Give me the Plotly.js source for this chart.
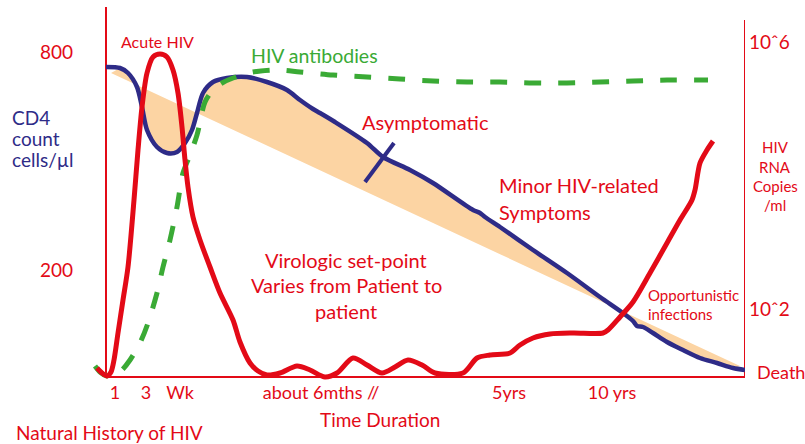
<!DOCTYPE html>
<html><head><meta charset="utf-8">
<script src="https://cdn.plot.ly/plotly-3.0.1.min.js"></script>
<style>html,body{margin:0;padding:0;background:#fff}#chart{width:805px;height:444px}</style>
</head><body><div id="chart"></div>
<script>
// Schematic units: time axis (0 = start of infection, 639 = death), level axis (0 = baseline)
const cd4Time = [0,14,22,31,36,41,51,61,71,79,86,91,97,107,121,141,161,181,194,207,214,229,261,277,304,327,367,374,379,394,427,461,494,517,527,531,537,547,561,577,594,611,627,639];
const cd4Level = [310,309,304,290,270,247,230,224,225,234,247,264,284,295,299,300,295,287,277,268,264,255,234,220,207,194,167,164,160,150,127,104,80,64,56,51,50,44,35,27,19,14,9,7];

const rnaTime = [-9,-4,1,5,8,12,17,22,28,32,36,41,47,54,61,67,72,76,79,82,87,94,104,114,127,134,144,152,161,174,191,204,219,231,247,261,276,289,302,316,329,357,371,384,404,414,427,444,467,497,502,514,527,544,561,574,586,589,594,601,607];
const rnaLevel = [9,4,1,5,17,44,77,110,177,227,270,304,320,323,320,307,284,250,217,190,160,137,110,84,57,35,14,6,2,4,11,7,0,4,19,12,4,10,17,12,4,4,19,22,24,32,39,43,44,44,47,60,75,104,134,157,177,187,214,227,236];

const abTime = [-11,-6,1,9,16,24,34,42,51,57,64,71,77,84,91,99,107,116,127,147,171,194,227,261,294,327,361,394,427,461,494,527,561,602];
const abLevel = [11,5,1,2,7,17,34,54,84,110,137,170,204,222,242,275,287,294,299,305,307,305,302,300,298,296,295,295,294,294,295,296,297,297];

// edge of the shaded band (start and end)
const bandTime = [5,634];
const bandLevel = [304,11];

// small cross-mark on the CD4 line
const markTime = [259,288];
const markLevel = [195,234];

const xTickVals = [9,40,74,215,403,506];
const xTickText = ['1','3','Wk','about 6mths //','5yrs','10 yrs'];
const leftTickVals = [325,107];
const leftTickText = ['800','200'];
const rightTickVals = [335,68];
const rightTickText = ['10ˆ6','10ˆ2'];

const RED = '#e30a17', NAVY = '#2e2b87', GREEN = '#3aaa35', ORANGE = '#fcd4a3';
const FONT = 'Lato, "Open Sans", sans-serif';

// band polygon: CD4 curve between band ends, then back along the straight edge
const bx = [bandTime[0]], by = [bandLevel[0]];
cd4Time.forEach((t,i)=>{ if(t>bandTime[0] && t<bandTime[1]){ bx.push(t); by.push(cd4Level[i]); } });
bx.push(bandTime[1]); by.push(bandLevel[1]);

const data = [
  {x:bx, y:by, mode:'lines', fill:'toself', fillcolor:ORANGE, line:{width:0, color:ORANGE}, hoverinfo:'skip'},
  {x:cd4Time, y:cd4Level, mode:'lines', line:{color:NAVY, width:4.5, shape:'spline', smoothing:0.8}},
  {x:abTime, y:abLevel, mode:'lines', line:{color:GREEN, width:5, dash:'17px,17px', shape:'spline', smoothing:0.8}},
  {x:rnaTime, y:rnaLevel, mode:'lines', line:{color:RED, width:5, shape:'spline', smoothing:0.8}},
  {x:markTime, y:markLevel, mode:'lines', line:{color:NAVY, width:4}},
  {x:[0], y:[0], yaxis:'y2', mode:'markers', marker:{opacity:0}, hoverinfo:'skip'}
];

const PLOT = {l:90, r:60, t:7, b:62, W:805, H:444};
function f(size, color){ return {family:FONT, size:size, color:color||RED}; }
function ann(text, x, y, opts){
  return Object.assign({text:text, x:x, y:y, xref:'x', yref:'y', showarrow:false,
    font:f(18), xanchor:'center', yanchor:'middle'}, opts||{});
}
// annotation placed outside the plotting area, given in page pixels
function pann(text, px, py, opts){
  const w = PLOT.W-PLOT.l-PLOT.r, h = PLOT.H-PLOT.t-PLOT.b;
  return Object.assign({text:text, x:(px-PLOT.l)/w, y:(PLOT.H-PLOT.b-py)/h, xref:'paper', yref:'paper',
    showarrow:false, font:f(18), xanchor:'center', yanchor:'middle'}, opts||{});
}
const annotations = [
  ann('Acute HIV', 51, 336, {font:f(16)}),
  pann('CD4', 10, 117, {xanchor:'left', font:f(19, NAVY)}),
  pann('count', 10, 138, {xanchor:'left', font:f(19, NAVY)}),
  pann('cells/µl', 10, 159, {xanchor:'left', font:f(19, NAVY)}),
  ann('HIV antibodies', 143, 322, {xanchor:'left', font:f(19.5, GREEN)}),
  ann('Asymptomatic', 254, 255, {xanchor:'left', font:f(20)}),
  ann('Minor HIV-related', 391, 192, {xanchor:'left', font:f(20)}),
  ann('Symptoms', 391, 165, {xanchor:'left', font:f(20)}),
  ann('Virologic set-point', 240, 117, {font:f(20)}),
  ann('Varies from Patient to', 240, 92, {font:f(20)}),
  ann('patient', 240, 66, {font:f(20)}),
  ann('Opportunistic', 540, 82, {xanchor:'left', font:f(15)}),
  ann('infections', 540, 63, {xanchor:'left', font:f(15)}),
  pann('HIV', 775, 147, {font:f(15)}),
  pann('RNA', 775, 167, {font:f(15)}),
  pann('Copies', 775, 186, {font:f(15)}),
  pann('/ml', 775, 205, {font:f(15)}),
  pann('Death', 755, 372, {xanchor:'left', font:f(18)}),
  pann('Time Duration', 380, 419, {font:f(19)}),
  pann('Natural History of HIV', 14, 432, {xanchor:'left', font:f(19)})
];

const shapes = [
  {type:'line', xref:'x', yref:'y', x0:0, x1:0, y0:0, y1:370, line:{color:RED, width:2}, layer:'below'},
  {type:'line', xref:'x', yref:'y', x0:639, x1:639, y0:0, y1:357, line:{color:RED, width:2}, layer:'below'},
  {type:'line', xref:'x', yref:'y', x0:0, x1:639, y0:0, y1:0, line:{color:RED, width:2}, layer:'below'}
];

const layout = {
  width:PLOT.W, height:PLOT.H,
  margin:{l:PLOT.l, r:PLOT.r, t:PLOT.t, b:PLOT.b, pad:0},
  paper_bgcolor:'#fff', plot_bgcolor:'#fff',
  showlegend:false, hovermode:false,
  font:{family:FONT, color:RED},
  xaxis:{range:[-16,639], showgrid:false, zeroline:false, showline:false, ticks:'',
    tickmode:'array', tickvals:xTickVals, ticktext:xTickText, tickfont:f(18), ticklabelstandoff:-2},
  yaxis:{range:[-5,370], showgrid:false, zeroline:false, showline:false, ticks:'',
    tickmode:'array', tickvals:leftTickVals, ticktext:leftTickText, tickfont:f(19), ticklabelstandoff:16},
  yaxis2:{range:[-5,370], overlaying:'y', side:'right', showgrid:false, zeroline:false, showline:false, ticks:'',
    tickmode:'array', tickvals:rightTickVals, ticktext:rightTickText, tickfont:f(19), ticklabelstandoff:3},
  annotations:annotations, shapes:shapes
};

Plotly.newPlot('chart', data, layout, {displayModeBar:false, staticPlot:true});
</script></body></html>
